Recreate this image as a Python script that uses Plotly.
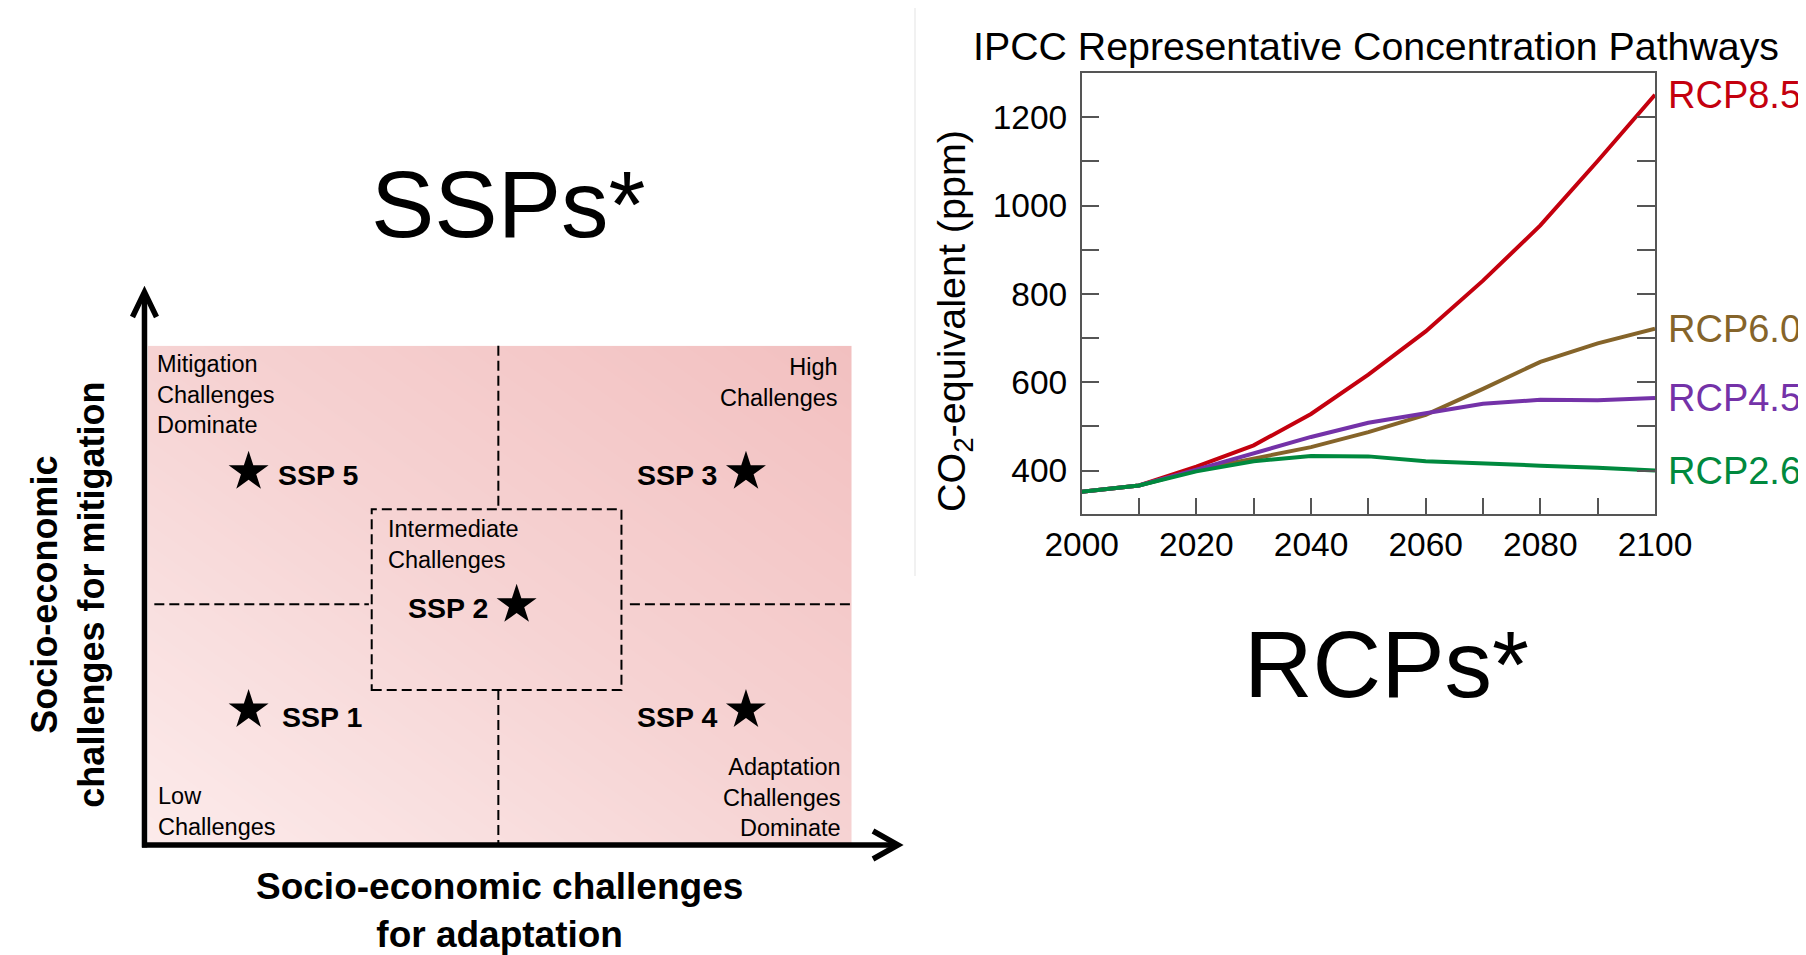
import plotly.graph_objects as go

W, H = 1806, 955
OFF = 8  # page body margin
FONT = "Arial, Liberation Sans, sans-serif"

# ---------------- RCP data (CO2-equivalent, ppm) ----------------
years = [2000, 2010, 2020, 2030, 2040, 2050, 2060, 2070, 2080, 2090, 2100]
rcp85 = [352, 366, 409, 457, 528, 617, 715, 830, 955, 1101, 1251]
rcp60 = [352, 366, 401, 427, 453, 487, 526, 585, 646, 688, 721]
rcp45 = [352, 366, 402, 439, 476, 508, 530, 551, 560, 559, 564]
rcp26 = [352, 366, 398, 421, 433, 432, 421, 415, 411, 406, 400]
rcp_names = ["RCP8.5", "RCP6.0", "RCP4.5", "RCP2.6"]
rcp_series = [rcp85, rcp60, rcp45, rcp26]
rcp_colors = ["#C4000E", "#85642A", "#7432A8", "#00893E"]

# ---------------- SSP diagram data (0-10 challenge scale) ----------------
ssp_names = ["SSP 1", "SSP 2", "SSP 3", "SSP 4", "SSP 5"]
ssp_adaptation = [1.43, 5.24, 8.50, 8.50, 1.43]
ssp_mitigation = [2.72, 4.82, 7.48, 2.72, 7.48]
ssp_label_side = ["right", "left", "left", "left", "right"]
ssp_label_dx = [31, -27, -27, -27, 27]
ssp_label_dy = [-7, -3, -3, -7, -3]

corner_texts = ["Mitigation<br>Challenges<br>Dominate", "High<br>Challenges",
                "Intermediate<br>Challenges", "Low<br>Challenges",
                "Adaptation<br>Challenges<br>Dominate"]
corner_u = [0.100, 9.83, 3.38, 0.110, 9.885]
corner_v = [9.03, 9.27, 6.03, 0.68, 0.97]
corner_anchor = ["left", "right", "left", "left", "right"]

# quadrant boundaries & intermediate box
mid_u, mid_v = 4.98, 4.83
box_u = [3.18, 6.73]
box_v = [3.12, 6.73]

def px(x):
    return (x - OFF) / W

def py(y):
    return 1 - (y - OFF) / H

# pink rectangle in page pixels
RL, RR, RT, RB = 148, 851.5, 345.7, 846
ux = (RR - RL) / 10.0
vy = (RB - RT) / 10.0

fig = go.Figure()

# ---- RCP lines ----
for name, vals, col in zip(rcp_names, rcp_series, rcp_colors):
    fig.add_trace(go.Scatter(x=years, y=vals, mode="lines", name=name,
                             line=dict(color=col, width=4), showlegend=False,
                             xaxis="x", yaxis="y"))

# ---- gradient background for the SSP matrix ----
fig.add_trace(go.Heatmap(x=[0, 10], y=[0, 10], z=[[0, 1], [1, 2]], zsmooth="best",
                         colorscale=[[0, "#FCEBEB"], [0.5, "#F6D3D3"], [1, "#F2C0C0"]],
                         showscale=False, hoverinfo="skip", xaxis="x2", yaxis="y2"))

# ---- SSP stars ----
fig.add_trace(go.Scatter(x=ssp_adaptation, y=ssp_mitigation, mode="markers",
                         marker=dict(symbol="star", size=30, color="black", line=dict(width=0)),
                         showlegend=False, xaxis="x3", yaxis="y3", cliponaxis=False))

annotations = []
for n, u, v, side, dx, dy in zip(ssp_names, ssp_adaptation, ssp_mitigation,
                                 ssp_label_side, ssp_label_dx, ssp_label_dy):
    annotations.append(dict(x=u, y=v, xref="x3", yref="y3", text=n, showarrow=False,
                            xanchor="left" if side == "right" else "right", yanchor="middle",
                            xshift=dx, yshift=dy,
                            font=dict(family=FONT, size=28.5, color="black", weight="bold")))

for t, u, v, a in zip(corner_texts, corner_u, corner_v, corner_anchor):
    annotations.append(dict(x=u, y=v, xref="x3", yref="y3", text=t, showarrow=False,
                            xanchor=a, yanchor="middle", align=a,
                            font=dict(family=FONT, size=23.5, color="black")))

# axis titles of the SSP diagram
annotations.append(dict(x=5.0, y=-1.28, xref="x3", yref="y3",
                        text="Socio-economic challenges<br>for adaptation", showarrow=False,
                        xanchor="center", yanchor="middle", align="center",
                        font=dict(family=FONT, size=37, color="black", weight="bold")))
annotations.append(dict(x=-1.14, y=5.02, xref="x3", yref="y3", textangle=-90,
                        text="Socio-economic<br>challenges for mitigation", showarrow=False,
                        xanchor="center", yanchor="middle", align="center",
                        font=dict(family=FONT, size=36, color="black", weight="bold")))

# big headings
annotations.append(dict(x=px(508), y=py(204), xref="paper", yref="paper", text="SSPs*",
                        showarrow=False, xanchor="center", yanchor="middle",
                        font=dict(family=FONT, size=95, color="black")))
annotations.append(dict(x=px(1386), y=py(664), xref="paper", yref="paper", text="RCPs*",
                        showarrow=False, xanchor="center", yanchor="middle",
                        font=dict(family=FONT, size=95, color="black")))

# RCP chart title and y title
annotations.append(dict(x=px(1376), y=py(46), xref="paper", yref="paper",
                        text="IPCC Representative Concentration Pathways",
                        showarrow=False, xanchor="center", yanchor="middle",
                        font=dict(family=FONT, size=39.3, color="black")))
annotations.append(dict(x=px(954), y=py(321), xref="paper", yref="paper",
                        text="CO<sub>2</sub>-equivalent (ppm)", textangle=-90,
                        showarrow=False, xanchor="center", yanchor="middle",
                        font=dict(family=FONT, size=39.5, color="black")))

# RCP end labels
for name, vals, col in zip(rcp_names, rcp_series, rcp_colors):
    annotations.append(dict(x=years[-1], y=vals[-1], xref="x", yref="y", text=name,
                            showarrow=False, xanchor="left", yanchor="middle", xshift=11,
                            font=dict(family=FONT, size=38, color=col)))

shapes = []
dash = dict(color="black", width=2, dash="10px,5px")
# dashed quadrant lines
shapes += [
    dict(type="line", xref="x3", yref="y3", x0=mid_u, x1=mid_u, y0=10, y1=box_v[1], line=dash),
    dict(type="line", xref="x3", yref="y3", x0=mid_u, x1=mid_u, y0=box_v[0], y1=0, line=dash),
    dict(type="line", xref="x3", yref="y3", x0=0.09, x1=box_u[0] - 0.04, y0=mid_v, y1=mid_v, line=dash),
    dict(type="line", xref="x3", yref="y3", x0=box_u[1] + 0.12, x1=10, y0=mid_v, y1=mid_v, line=dash),
    dict(type="rect", xref="x3", yref="y3", x0=box_u[0], x1=box_u[1], y0=box_v[0], y1=box_v[1],
         line=dash, fillcolor="rgba(0,0,0,0)"),
]
# axis arrows
ax_u, ax_v = -0.05, 0.02
tip_v = (RB - 292) / vy
tip_u = (898 - RL) / ux
arrow = dict(color="black", width=5.5)
shapes += [
    dict(type="line", xref="x3", yref="y3", x0=ax_u, x1=ax_u, y0=ax_v - 0.05, y1=tip_v - 0.03, line=arrow),
    dict(type="line", xref="x3", yref="y3", x0=ax_u - 0.035, x1=tip_u - 0.04, y0=ax_v, y1=ax_v, line=arrow),
    dict(type="path", xref="x3", yref="y3", line=arrow, fillcolor="rgba(0,0,0,0)",
         path=f"M {ax_u - 12/ux},{tip_v - 25/vy} L {ax_u},{tip_v} L {ax_u + 12/ux},{tip_v - 25/vy}"),
    dict(type="path", xref="x3", yref="y3", line=arrow, fillcolor="rgba(0,0,0,0)",
         path=f"M {tip_u - 25/ux},{ax_v + 14/vy} L {tip_u},{ax_v} L {tip_u - 25/ux},{ax_v - 14/vy}"),
]
# faint separator
shapes.append(dict(type="line", xref="paper", yref="paper", x0=px(915), x1=px(915),
                   y0=py(8), y1=py(576), line=dict(color="#ECECEC", width=1.5)))

# full-left-half diagram axes (page pixels OFF .. OFF+W/2 and OFF .. OFF+H)
x3_lo = (OFF - RL) / ux
x3_hi = (OFF + W * 0.5 - RL) / ux
y3_lo = (RB - (OFF + H)) / vy
y3_hi = (RB - OFF) / vy

hidden = dict(visible=False, fixedrange=True, automargin=False, showgrid=False, zeroline=False)

fig.update_layout(
    width=W, height=H, margin=dict(l=0, r=0, t=0, b=0, pad=0, autoexpand=False),
    paper_bgcolor="white", plot_bgcolor="rgba(0,0,0,0)", showlegend=False,
    font=dict(family=FONT, color="black"),
    xaxis=dict(domain=[px(1081.7), px(1655)], range=[2000, 2100], anchor="y", automargin=False,
               showgrid=False, zeroline=False, showline=True, mirror=True,
               linecolor="#555", linewidth=1.5,
               ticks="inside", ticklen=16, tickwidth=1.5, tickcolor="#555",
               dtick=20, tick0=2000, tickfont=dict(size=33.5, family=FONT, color="black"),
               ticklabelstandoff=0,
               minor=dict(dtick=10, ticks="inside", ticklen=16, tickwidth=1.5, tickcolor="#555")),
    yaxis=dict(domain=[py(514), py(73.3)], range=[301.5, 1299.6], anchor="x", automargin=False,
               showgrid=False, zeroline=False, showline=True, mirror="ticks",
               linecolor="#555", linewidth=1.5,
               ticks="inside", ticklen=18, tickwidth=1.5, tickcolor="#555",
               dtick=200, tick0=0, tickfont=dict(size=33.5, family=FONT, color="black"),
               ticklabelstandoff=6,
               minor=dict(dtick=100, ticks="inside", ticklen=18, tickwidth=1.5, tickcolor="#555")),
    xaxis2=dict(domain=[px(RL), px(RR)], range=[0, 10], anchor="y2", **hidden),
    yaxis2=dict(domain=[py(RB), py(RT)], range=[0, 10], anchor="x2", **hidden),
    xaxis3=dict(domain=[0, 0.5], range=[x3_lo, x3_hi], anchor="y3", **hidden),
    yaxis3=dict(domain=[0, 1], range=[y3_lo, y3_hi], anchor="x3", **hidden),
    annotations=annotations, shapes=shapes,
)

fig.write_html("out.html")
